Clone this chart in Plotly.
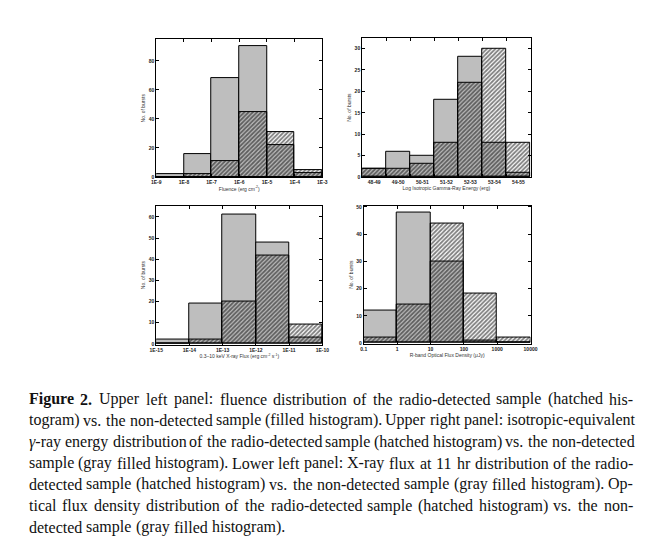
import re
import plotly.graph_objects as go
from plotly.subplots import make_subplots

# upper left: fluence
fluence_labels = ["1E-9", "1E-8", "1E-7", "1E-6", "1E-5", "1E-4", "1E-3"]
fluence_nondet = [2, 16, 68, 90, 22, 3]
fluence_det = [0, 2, 11, 45, 31, 5]

# upper right: isotropic gamma-ray energy
energy_labels = ["48-49", "49-50", "50-51", "51-52", "52-53", "53-54", "54-55"]
energy_nondet = [2, 6, 5, 18, 28, 8, 1]
energy_det = [2, 2, 3, 8, 22, 30, 8]

# lower left: x-ray flux
xray_labels = ["1E-15", "1E-14", "1E-13", "1E-12", "1E-11", "1E-10"]
xray_nondet = [2, 19, 61, 48, 3]
xray_det = [0, 2, 20, 42, 9]

# lower right: optical flux density
optical_labels = ["0.1", "1", "10", "100", "1000", "10000"]
optical_nondet = [12, 48, 30, 1, 0]
optical_det = [2, 14, 44, 18, 2]

caption = [
    "<b>Figure</b> <b>2.</b> Upper left panel: fluence distribution of the radio-detected sample (hatched his-",
    "togram) vs. the non-detected sample (filled histogram). Upper right panel: isotropic-equivalent",
    "<i>γ</i>-ray energy distribution of the radio-detected sample (hatched histogram) vs. the non-detected",
    "sample (gray filled histogram). Lower left panel: X-ray flux at 11 hr distribution of the radio-",
    "detected sample (hatched histogram) vs. the non-detected sample (gray filled histogram). Op-",
    "tical flux density distribution of the radio-detected sample (hatched histogram) vs. the non-",
    "detected sample (gray filled histogram).",
]

# page has an 8px body margin, so the figure is drawn 8px in and down
OFF = 8
W, H = 668 - OFF, 553 - OFF
GRAY = "#bebebe"
TICKFONT = dict(family="Liberation Sans, Arial", size=5, color="#222222", weight="bold")
TITLEFONT = dict(family="Liberation Sans, Arial", size=5, color="#333333")
CAPSIZE = 16

# Times metrics (1/1000 em) for laying out the justified caption
TIMES = dict(zip("ABCDEFGHIJKLMNOPQRSTUVWXYZ",
                 [722, 667, 667, 722, 611, 556, 722, 722, 333, 389, 722, 611, 889,
                  722, 722, 556, 722, 667, 556, 611, 722, 722, 944, 722, 722, 611]))
TIMES.update(zip("abcdefghijklmnopqrstuvwxyz",
                 [444, 500, 444, 500, 444, 333, 500, 500, 278, 278, 500, 278, 778,
                  500, 500, 500, 500, 333, 389, 278, 500, 500, 722, 500, 500, 444]))
TIMES.update({" ": 250, "(": 333, ")": 333, ",": 250, "-": 333, ".": 250, ":": 278,
              "γ": 430})
TIMES.update({str(d): 500 for d in range(10)})
TIMES_BOLD = {"F": 611, "i": 278, "g": 500, "u": 556, "r": 444, "e": 444, "2": 500, ".": 250}


def word_width(word):
    bold = word.startswith("<b>")
    plain = re.sub("<[^>]+>", "", word)
    table = TIMES_BOLD if bold else TIMES
    return sum(table.get(ch, TIMES.get(ch, 500)) for ch in plain) * CAPSIZE / 1000


def px_dom(a, b):
    return [(a - OFF) / W, (b - OFF) / W]


def py_dom(top, bottom):
    return [1 - (bottom - OFF) / H, 1 - (top - OFF) / H]


fig = make_subplots(rows=2, cols=2)

panels = [
    (1, 1, fluence_nondet, fluence_det),
    (1, 2, energy_nondet, energy_det),
    (2, 1, xray_nondet, xray_det),
    (2, 2, optical_nondet, optical_det),
]
for r, c, nondet, det in panels:
    xs = [i + 0.5 for i in range(len(nondet))]
    fig.add_trace(go.Bar(
        x=xs, y=nondet, width=1, marker=dict(color=GRAY, line=dict(color="black", width=1)),
        showlegend=False, hoverinfo="skip"), row=r, col=c)
    fig.add_trace(go.Bar(
        x=xs, y=det, width=1,
        marker=dict(color="rgba(0,0,0,0)", line=dict(color="black", width=1),
                    pattern=dict(shape="/", fgcolor="black", bgcolor="rgba(0,0,0,0)",
                                 size=3, solidity=0.6, fillmode="overlay")),
        showlegend=False, hoverinfo="skip"), row=r, col=c)

common = dict(showline=True, linecolor="black", linewidth=1, mirror="ticks",
              ticks="inside", ticklen=3, tickcolor="black", tickfont=TICKFONT,
              showgrid=False, zeroline=False)

# x axes
fig.update_xaxes(common, row=1, col=1, domain=px_dom(152.3, 322), range=[0, 6],
                 tickvals=list(range(7)), ticktext=fluence_labels,
                 title=dict(text="Fluence (erg cm<sup>-2</sup>)", font=TITLEFONT, standoff=0))
fig.update_xaxes(common, row=1, col=2, domain=px_dom(362.7, 534.7), range=[0, 7],
                 tickvals=[i + 0.5 for i in range(7)], ticktext=energy_labels, ticklen=0,
                 minor=dict(ticks="inside", ticklen=3, tickcolor="black", tick0=0, dtick=1),
                 title=dict(text="Log Isotropic Gamma-Ray Energy (erg)", font=TITLEFONT, standoff=0))
fig.update_xaxes(common, row=2, col=1, domain=px_dom(152.3, 322), range=[0, 5],
                 tickvals=list(range(6)), ticktext=xray_labels,
                 title=dict(text="0.3–10 keV X-ray Flux (erg cm<sup>-2</sup> s<sup>-1</sup>)",
                            font=TITLEFONT, standoff=0))
fig.update_xaxes(common, row=2, col=2, domain=px_dom(364.3, 534.7), range=[0, 5],
                 tickvals=list(range(6)), ticktext=optical_labels,
                 title=dict(text="R-band Optical Flux Density (μJy)", font=TITLEFONT, standoff=0))

# y axes
ytitle = dict(text="No. of bursts", font=TITLEFONT, standoff=2)
fig.update_yaxes(common, row=1, col=1, domain=py_dom(37.3, 176.7), range=[-0.3, 95],
                 tickvals=[0, 20, 40, 60, 80], title=ytitle)
fig.update_yaxes(common, row=1, col=2, domain=py_dom(36, 176.7), range=[-0.1, 32.5],
                 tickvals=[0, 5, 10, 15, 20, 25, 30], title=ytitle)
fig.update_yaxes(common, row=2, col=1, domain=py_dom(205, 345), range=[-0.3, 65.4],
                 tickvals=[0, 10, 20, 30, 40, 50, 60], title=ytitle)
fig.update_yaxes(common, row=2, col=2, domain=py_dom(205, 344.3), range=[-0.3, 50.5],
                 tickvals=[0, 10, 20, 30, 40, 50], title=ytitle)

# caption, justified between left and right word by word
left, right = 22, 639
for i, line in enumerate(caption):
    words = line.split(" ")
    widths = [word_width(w) for w in words]
    if i < len(caption) - 1:
        gap = (right - left - sum(widths)) / (len(words) - 1)
    else:
        gap = 0.333 * CAPSIZE
    x = left
    ypos = 400 + i * 21.5
    for w, wd in zip(words, widths):
        fig.add_annotation(
            text=w, xref="paper", yref="paper", x=(x - OFF) / W, y=1 - (ypos - OFF) / H,
            xanchor="left", yanchor="middle", showarrow=False, borderpad=0, borderwidth=0,
            font=dict(family="Liberation Serif, Times New Roman", size=CAPSIZE, color="#111111"))
        x += wd + gap

fig.update_layout(
    width=W, height=H, margin=dict(l=0, r=0, t=0, b=0),
    barmode="overlay", bargap=0, plot_bgcolor="white", paper_bgcolor="white",
)

fig.write_html("out.html")
